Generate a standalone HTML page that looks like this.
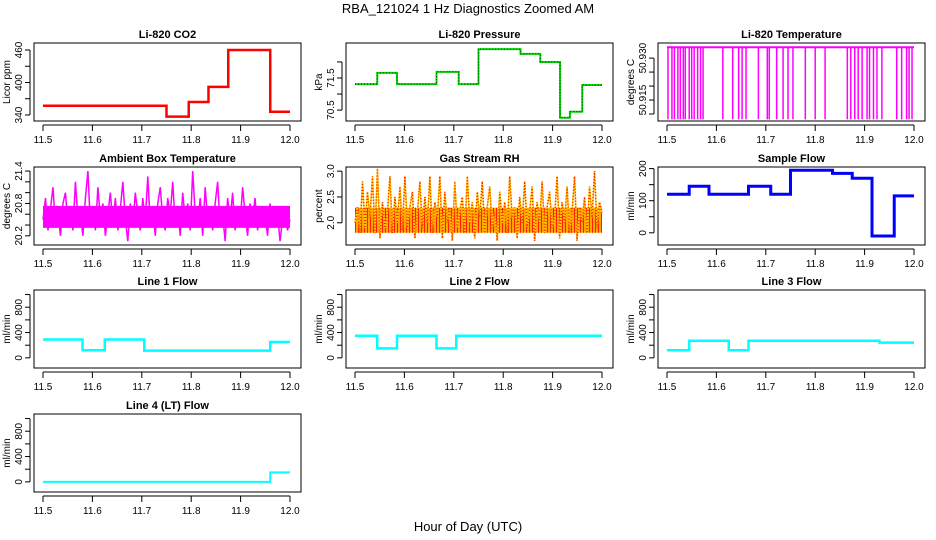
<!DOCTYPE html>
<html><head><meta charset="utf-8"><style>
body{margin:0;background:#fff}
svg{display:block;font-family:"Liberation Sans",sans-serif}
</style></head><body>
<svg id="c" width="936" height="540" viewBox="0 0 936 540">
<text x="468" y="13" font-size="13" text-anchor="middle">RBA_121024  1 Hz Diagnostics Zoomed AM</text>
<text x="468" y="531" font-size="13" text-anchor="middle">Hour of Day (UTC)</text>
</svg>
<script>
const xTicks=[11.5,11.6,11.7,11.8,11.9,12.0];
const co2Steps=[[11.5,11.75,357],[11.75,11.795,337],[11.795,11.835,364],[11.835,11.875,392],[11.875,11.96,460],[11.96,12.0,346]];
const presSteps=[[11.5,11.545,71.31],[11.545,11.585,71.66],[11.585,11.665,71.31],[11.665,11.71,71.69],[11.71,11.75,71.31],[11.75,11.835,72.4],[11.835,11.875,72.25],[11.875,11.915,72.0],[11.915,11.935,70.26],[11.935,11.96,70.45],[11.96,12.0,71.28]];
const tempDips=[11.502,11.51,11.515,11.522,11.527,11.533,11.537,11.545,11.55,11.555,11.562,11.568,11.573,11.613,11.633,11.645,11.652,11.66,11.685,11.703,11.707,11.722,11.735,11.745,11.755,11.78,11.8,11.82,11.865,11.872,11.88,11.887,11.895,11.905,11.91,11.918,11.925,11.935,11.965,11.975,11.985,11.99,11.996];
const tempHigh=50.9339, tempLow=50.9081;
const ambVals=[20.5,20.9,20.3,20.7,21.1,20.4,20.6,20.2,20.8,21.0,20.4,20.7,20.3,21.2,20.5,20.6,20.2,20.9,21.4,20.4,20.7,20.3,21.1,20.5,20.8,20.2,20.6,21.0,20.4,20.9,20.3,20.7,21.2,20.5,20.1,20.8,20.4,21.0,20.6,20.3,20.9,20.5,21.3,20.4,20.7,20.2,20.8,21.1,20.5,20.3,20.9,20.6,21.2,20.4,20.7,20.2,21.0,20.5,20.8,20.3,21.4,20.6,20.4,20.9,20.2,21.1,20.5,20.7,20.3,20.8,21.2,20.4,20.6,20.1,20.9,20.5,21.0,20.3,20.7,20.4,21.1,20.6,20.2,20.8,20.5,20.9,20.3,20.7,20.4,20.6,20.2,20.8,20.5,20.4,20.6,20.1,20.5,20.6,20.3,20.5];
const rhVals=[2.0,2.3,1.8,2.8,1.9,2.6,2.1,2.9,1.8,3.05,1.7,2.4,1.9,2.2,2.9,1.8,2.5,2.0,2.7,1.85,2.9,1.9,2.3,2.6,1.7,2.2,2.8,1.9,2.5,2.0,2.9,1.8,2.4,2.1,2.9,1.7,2.6,2.0,2.3,1.65,2.8,1.9,2.2,2.5,1.8,2.9,2.0,2.4,1.7,2.6,2.1,2.8,1.8,2.3,2.7,1.9,2.2,1.65,2.6,2.0,2.4,1.8,2.9,2.1,2.3,1.7,2.5,2.0,2.8,1.9,2.2,2.7,1.65,2.4,2.0,2.8,1.8,2.3,2.6,1.9,2.1,2.9,1.7,2.4,2.0,2.7,1.8,2.2,2.9,1.65,2.3,2.0,2.5,1.8,2.7,2.1,3.0,1.9,2.4,2.2];
const sampSteps=[[11.5,11.545,120],[11.545,11.585,145],[11.585,11.665,120],[11.665,11.71,145],[11.71,11.75,120],[11.75,11.835,195],[11.835,11.875,185],[11.875,11.915,170],[11.915,11.96,-10],[11.96,12.0,115]];
const l1Steps=[[11.5,11.58,290],[11.58,11.625,120],[11.625,11.705,290],[11.705,11.96,115],[11.96,12.0,250]];
const l2Steps=[[11.5,11.545,350],[11.545,11.585,150],[11.585,11.665,350],[11.665,11.705,150],[11.705,12.0,350]];
const l3Steps=[[11.5,11.545,120],[11.545,11.625,270],[11.625,11.665,120],[11.665,11.93,270],[11.93,12.0,240]];
const l4Steps=[[11.5,11.96,0],[11.96,12.0,150]];

const svg=document.getElementById('c');
const NS='http://www.w3.org/2000/svg';
function mk(tag,attrs,parent){const e=document.createElementNS(NS,tag);for(const k in attrs)e.setAttribute(k,attrs[k]);(parent||svg).appendChild(e);return e;}
const colX=[34,346,658], rowY=[43,167,290,414], BW=267, BH=78;

function panel(col,row,title,ylab,ymin,ymax,yticks,ytickLabels,name){
  const L=colX[col],T=rowY[row];
  const g=mk('g',{});
  
  
  const xs=v=>L+9+(v-11.5)/0.5*247;
  const ys=v=>T+BH-(v-ymin)/(ymax-ymin)*BH;
  const t=mk('text',{x:L+BW/2,y:T-5,'font-size':11,'font-weight':'bold','text-anchor':'middle'},g);
  t.textContent=title;
  
  
  const box=mk('rect',{x:L,y:T,width:BW,height:BH,fill:'none',stroke:'#000','stroke-width':1},g);
  
  
  xTicks.forEach(v=>{
    mk('line',{x1:xs(v),x2:xs(v),y1:T+BH+4,y2:T+BH+10,stroke:'#000'},g);
    const tx=mk('text',{x:xs(v),y:T+BH+22,'font-size':10,'text-anchor':'middle'},g);
    tx.textContent=v.toFixed(1);
    
    
  });
  mk('line',{x1:xs(11.5),x2:xs(12),y1:T+BH+4,y2:T+BH+4,stroke:'#000'},g);
  mk('line',{x1:L-4,x2:L-4,y1:ys(yticks[0]),y2:ys(yticks[yticks.length-1]),stroke:'#000'},g);
  yticks.forEach((v,i)=>{
    mk('line',{x1:L-4,x2:L-9,y1:ys(v),y2:ys(v),stroke:'#000'},g);
    if(ytickLabels[i]!==''){
      const ty=mk('text',{x:L-12,y:ys(v),'font-size':10,'text-anchor':'middle',transform:`rotate(-90 ${L-12} ${ys(v)})`},g);
      ty.textContent=ytickLabels[i];
      
      
    }
  });
  const yl=mk('text',{x:L-24,y:T+BH/2,'font-size':10,'text-anchor':'middle',transform:`rotate(-90 ${L-24} ${T+BH/2})`},g);
  yl.textContent=ylab;
  
  
  return {g,xs,ys};
}
function steps(p,arr,color,w,name,dash){
  let d='';
  arr.forEach((s,i)=>{d+=(i?'L':'M')+p.xs(s[0])+','+p.ys(s[2])+'L'+p.xs(s[1])+','+p.ys(s[2]);});
  const e=mk('path',{d,fill:'none',stroke:color,'stroke-width':w},p.g);
  if(dash)e.setAttribute('stroke-dasharray',dash);
  
  
}
function series(p,vals,color,w,name,dash){
  const n=vals.length;
  const pts=vals.map((v,i)=>p.xs(11.5+0.5*i/(n-1))+','+p.ys(v)).join(' ');
  const e=mk('polyline',{points:pts,fill:'none',stroke:color,'stroke-width':w},p.g);
  if(dash)e.setAttribute('stroke-dasharray',dash);
  
  
}
// Row 1
let p=panel(0,0,'Li-820 CO2','Licor ppm',328.9,472.9,[340,370,400,430,460],['340','','400','','460'],'co2');
steps(p,co2Steps,'#ff0000',2.5,'co2-line');
p=panel(1,0,'Li-820 Pressure','kPa',70.16,72.59,[70.5,71,71.5,72],['70.5','','71.5',''],'pressure');
steps(p,presSteps,'#00dd00',2,'pressure-line');
steps(p,presSteps,'#000',0.8,'pressure-line-dots','1 2');
p=panel(2,0,'Li-820 Temperature','degrees C',50.9075,50.9354,[50.91,50.915,50.92,50.925,50.93],['','50.915','','','50.930'],'temperature');
steps(p,[[11.5,12,tempHigh]],'#ff00ff',2,'temperature-line');
tempDips.forEach(t=>{const e=mk('line',{x1:p.xs(t),x2:p.xs(t),y1:p.ys(tempHigh),y2:p.ys(tempLow),stroke:'#ff00ff','stroke-width':1.5},p.g);

});
// Row 2
p=panel(0,1,'Ambient Box Temperature','degrees C',20.03,21.475,[20.2,20.4,20.6,20.8,21.0,21.2,21.4],['20.2','','','20.8','','','21.4'],'ambient');
steps(p,[[11.5,12,20.55]],'#ff00ff',22,'ambient-band');
series(p,ambVals,'#ff00ff',1.5,'ambient-line');
p=panel(1,1,'Gas Stream RH','percent',1.57,3.08,[2.0,2.5,3.0],['2.0','2.5','3.0'],'rh');
steps(p,[[11.5,12,2.05]],'#ffa500',25,'rh-band');
steps(p,[[11.5,12,2.05]],'#ff2000',25,'rh-band-dots','1 2');
series(p,rhVals,'#ffd000',1.5,'rh-line');
series(p,rhVals,'#ff2000',1.5,'rh-line-dots','1 2');
p=panel(2,1,'Sample Flow','ml/min',-38,205,[0,50,100,150,200],['0','','100','','200'],'sample-flow');
steps(p,sampSteps,'#0000ff',3,'sample-flow-line');
// Row 3/4
const lt=[0,200,400,600,800,1000],ll=['0','','400','','800',''];
p=panel(0,2,'Line 1 Flow','ml/min',-160,1072,lt,ll,'line1-flow');steps(p,l1Steps,'#00ffff',2.5,'line1-flow-line');
p=panel(1,2,'Line 2 Flow','ml/min',-160,1072,lt,ll,'line2-flow');steps(p,l2Steps,'#00ffff',2.5,'line2-flow-line');
p=panel(2,2,'Line 3 Flow','ml/min',-160,1072,lt,ll,'line3-flow');steps(p,l3Steps,'#00ffff',2.5,'line3-flow-line');
p=panel(0,3,'Line 4 (LT) Flow','ml/min',-160,1072,lt,ll,'line4-flow');steps(p,l4Steps,'#00ffff',2,'line4-flow-line');
</script>
</body></html>
